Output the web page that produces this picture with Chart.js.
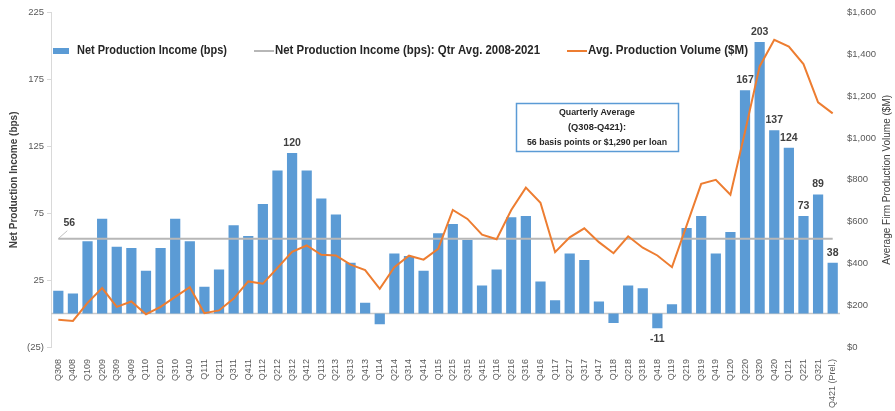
<!DOCTYPE html>
<html>
<head>
<meta charset="utf-8">
<script src="https://cdn.jsdelivr.net/npm/chart.js@4.4.0/dist/chart.umd.min.js"></script>
<style>
  body { margin: 0; background: #fff; }
</style>
</head>
<body>
<canvas id="chart" width="895" height="411"></canvas>
<script>
const quarters = ['Q308', 'Q408', 'Q109', 'Q209', 'Q309', 'Q409', 'Q110', 'Q210', 'Q310', 'Q410',
    'Q111', 'Q211', 'Q311', 'Q411', 'Q112', 'Q212', 'Q312', 'Q412', 'Q113', 'Q213',
    'Q313', 'Q413', 'Q114', 'Q214', 'Q314', 'Q414', 'Q115', 'Q215', 'Q315', 'Q415',
    'Q116', 'Q216', 'Q316', 'Q416', 'Q117', 'Q217', 'Q317', 'Q417', 'Q118', 'Q218',
    'Q318', 'Q418', 'Q119', 'Q219', 'Q319', 'Q419', 'Q120', 'Q220', 'Q320', 'Q420',
    'Q121', 'Q221', 'Q321', 'Q421 (Prel.)'];

// net production income, bps
const netIncome = [17, 15, 54, 71, 50, 49, 32, 49, 71, 54,
    20, 33, 66, 58, 82, 107, 120, 107, 86, 74,
    38, 8, -8, 45, 43, 32, 60, 67, 55, 21,
    33, 72, 73, 24, 10, 45, 40, 9, -7, 21,
    19, -11, 7, 64, 73, 45, 61, 167, 203, 137,
    124, 73, 89, 38];

// average firm production volume, $M
const avgVolume = [130, 125, 211, 282, 192, 218, 157, 192, 240, 286,
    162, 175, 232, 314, 303, 379, 456, 486, 441, 438,
    394, 368, 278, 382, 437, 418, 470, 656, 613, 538,
    516, 656, 763, 690, 454, 525, 568, 502, 449, 530,
    475, 438, 382, 581, 781, 800, 729, 1030, 1343, 1470,
    1438, 1354, 1171, 1118];

const qtrAverage = 56;
const avgLine = quarters.map(() => qtrAverage);

// bars that carry a value label
const labelled = ['Q312', 'Q418', 'Q220', 'Q320', 'Q420', 'Q121', 'Q221', 'Q321', 'Q421 (Prel.)'];

const boxLines = ['Quarterly Average', '(Q308-Q421):', '56 basis points or $1,290 per loan'];

const FONT = '"Liberation Sans", Arial, sans-serif';
const blue = '#5b9bd5';
const orange = '#ed7d31';
const grey = '#b7b7b7';
const tickColor = '#595959';

const extras = {
    id: 'extras',
    beforeDatasetsDraw(chart) {
        const {ctx, chartArea, scales} = chart;
        const y0 = scales.y.getPixelForValue(0);
        ctx.save();
        ctx.strokeStyle = '#c9c9c9';
        ctx.lineWidth = 1.5;
        ctx.beginPath();
        ctx.moveTo(chartArea.left, y0);
        ctx.lineTo(chartArea.right, y0);
        ctx.stroke();
        ctx.restore();
    },
    afterDatasetsDraw(chart) {
        const {ctx, chartArea, scales} = chart;
        const bars = chart.getDatasetMeta(2).data;
        ctx.save();

        // value labels on bars
        ctx.font = 'bold 10.5px ' + FONT;
        ctx.fillStyle = '#404040';
        ctx.textAlign = 'center';
        ctx.textBaseline = 'middle';
        labelled.forEach(q => {
            const i = quarters.indexOf(q);
            const el = bars[i];
            const v = netIncome[i];
            ctx.fillText(String(v), el.x, v >= 0 ? el.y - 10 : el.y + 11);
        });

        // average label with leader
        const x0 = scales.x.getPixelForValue(0);
        const yA = scales.y.getPixelForValue(qtrAverage);
        ctx.strokeStyle = '#c0c0c0';
        ctx.lineWidth = 1;
        ctx.beginPath();
        ctx.moveTo(x0, yA);
        ctx.lineTo(x0 + 9, yA - 8);
        ctx.stroke();
        ctx.font = 'bold 10.5px ' + FONT;
        ctx.fillText(String(qtrAverage), x0 + 11, yA - 16);

        // legend
        const ly = 51;
        ctx.fillStyle = blue;
        ctx.fillRect(53, ly - 3, 16, 6);
        ctx.lineWidth = 2;
        ctx.strokeStyle = grey;
        ctx.beginPath(); ctx.moveTo(254, ly); ctx.lineTo(274, ly); ctx.stroke();
        ctx.strokeStyle = orange;
        ctx.beginPath(); ctx.moveTo(567, ly); ctx.lineTo(587, ly); ctx.stroke();
        ctx.font = 'bold 12.5px ' + FONT;
        ctx.fillStyle = '#262626';
        ctx.textAlign = 'left';
        ctx.fillText('Net Production Income (bps)', 77, ly, 150);
        ctx.fillText('Net Production Income (bps): Qtr Avg. 2008-2021', 275, ly, 265);
        ctx.fillText('Avg. Production Volume ($M)', 588, ly, 160);

        // note box
        ctx.strokeStyle = blue;
        ctx.lineWidth = 1.5;
        ctx.strokeRect(516.5, 103.5, 162, 48);
        ctx.font = 'bold 9.5px ' + FONT;
        ctx.textAlign = 'center';
        const widths = [76, 58, 140];
        boxLines.forEach((t, k) => ctx.fillText(t, 597, 112 + k * 15, widths[k]));

        // axis titles
        const cy = (chartArea.top + chartArea.bottom) / 2;
        ctx.fillStyle = '#404040';
        ctx.save();
        ctx.translate(14, cy);
        ctx.rotate(-Math.PI / 2);
        ctx.font = 'bold 10px ' + FONT;
        ctx.fillText('Net Production Income (bps)', 0, 0, 152);
        ctx.restore();
        ctx.save();
        ctx.translate(887, cy);
        ctx.rotate(-Math.PI / 2);
        ctx.font = '10px ' + FONT;
        ctx.fillText('Average Firm Production Volume ($M)', 0, 0, 178);
        ctx.restore();

        ctx.restore();
    }
};

const ctx = document.getElementById('chart').getContext('2d');
const chart = new Chart(ctx, {
    type: 'bar',
    data: {
        labels: quarters,
        datasets: [{
            type: 'line',
            label: 'Avg. Production Volume ($M)',
            data: avgVolume,
            yAxisID: 'y1',
            borderColor: orange,
            borderWidth: 2,
            pointRadius: 0,
            tension: 0,
            order: 1
        }, {
            type: 'line',
            label: 'Net Production Income (bps): Qtr Avg. 2008-2021',
            data: avgLine,
            yAxisID: 'y',
            borderColor: grey,
            borderWidth: 2,
            pointRadius: 0,
            order: 2
        }, {
            label: 'Net Production Income (bps)',
            data: netIncome,
            yAxisID: 'y',
            backgroundColor: blue,
            categoryPercentage: 1,
            barPercentage: 0.7,
            order: 3
        }]
    },
    options: {
        responsive: false,
        animation: false,
        devicePixelRatio: 1,
        layout: { padding: { top: 11, left: 0, right: 0, bottom: 0 } },
        plugins: {
            legend: { display: false },
            tooltip: { enabled: false }
        },
        scales: {
            x: {
                grid: { display: false },
                border: { display: false },
                ticks: {
                    color: tickColor,
                    font: { family: FONT, size: 9 },
                    minRotation: 90,
                    maxRotation: 90,
                    autoSkip: false,
                    padding: 4
                },
                afterFit: s => { s.height = 64; }
            },
            y: {
                position: 'left',
                min: -25,
                max: 225,
                grid: { drawOnChartArea: false, tickLength: 4, color: '#d9d9d9' },
                border: { color: '#d9d9d9' },
                ticks: {
                    stepSize: 50,
                    color: tickColor,
                    font: { family: FONT, size: 9.5 },
                    padding: 3,
                    callback: v => v < 0 ? '(' + (-v) + ')' : v
                },
                afterFit: s => { s.width = 51; }
            },
            y1: {
                position: 'right',
                min: 0,
                max: 1600,
                grid: { display: false, drawTicks: false },
                border: { display: false },
                ticks: {
                    stepSize: 200,
                    color: tickColor,
                    font: { family: FONT, size: 9.5 },
                    padding: 7,
                    callback: v => '$' + v.toLocaleString('en-US')
                },
                afterFit: s => { s.width = 55; }
            }
        }
    },
    plugins: [extras]
});
</script>
</body>
</html>
